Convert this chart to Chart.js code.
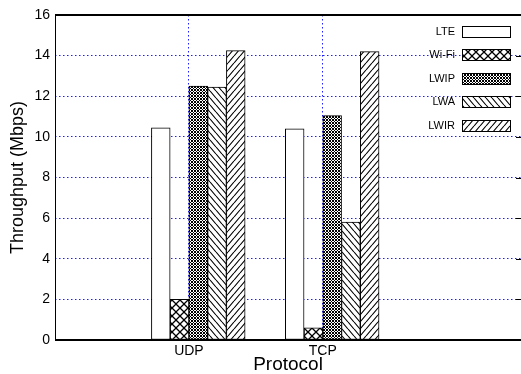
<!DOCTYPE html>
<html><head><meta charset="utf-8">
<script src="https://cdn.jsdelivr.net/npm/chart.js@4.4.0/dist/chart.umd.min.js"></script>
<style>html,body{margin:0;padding:0;background:#fff;overflow:hidden}canvas{display:block}</style>
</head><body>
<canvas id="c" width="521" height="374"></canvas>
<script>
// ---- data ----
const categories = ['UDP', 'TCP'];
const seriesNames = ['LTE', 'Wi-Fi', 'LWIP', 'LWA', 'LWIR'];
const lteValues  = [10.45, 10.4];
const wifiValues = [2.0, 0.6];
const lwipValues = [12.5, 11.05];
const lwaValues  = [12.45, 5.8];
const lwirValues = [14.25, 14.2];
const yTickValues = [0, 2, 4, 6, 8, 10, 12, 14, 16];
const xAxisTitle = 'Protocol';
const yAxisTitle = 'Throughput (Mbps)';

// ---- patterns ----
function tile(w, h, draw) {
  const c = document.createElement('canvas');
  c.width = w; c.height = h;
  const g = c.getContext('2d');
  g.fillStyle = '#fff'; g.fillRect(0, 0, w, h);
  draw(g, w, h);
  return document.getElementById('c').getContext('2d').createPattern(c, 'repeat');
}
function cross(lw) {
  return (g, w, h) => {
    g.strokeStyle = '#000'; g.lineWidth = lw;
    g.beginPath();
    g.moveTo(-1, -1); g.lineTo(w + 1, h + 1);
    g.moveTo(-1, h + 1); g.lineTo(w + 1, -1);
    g.stroke();
  };
}
const patterns = [
  '#ffffff',
  tile(8, 8, cross(1.3)),
  tile(3, 3, cross(1.0)),
  tile(6, 7, (g, w, h) => {
    g.strokeStyle = '#000'; g.lineWidth = 1.1;
    g.beginPath();
    for (let k = -1; k <= 1; k++) { g.moveTo(k * w, 0); g.lineTo(k * w + w, h); }
    g.stroke();
  }),
  tile(6, 7, (g, w, h) => {
    g.strokeStyle = '#000'; g.lineWidth = 1.1;
    g.beginPath();
    for (let k = -1; k <= 1; k++) { g.moveTo(k * w, h); g.lineTo(k * w + w, 0); }
    g.stroke();
  })
];

const seriesValues = [lteValues, wifiValues, lwipValues, lwaValues, lwirValues];
const barStep = 0.14;
const datasets = seriesNames.map((name, i) => ({
  label: name,
  data: seriesValues[i].map((v, g) => ({ x: g + (i - (seriesNames.length - 2) / 2) * barStep, y: v })),
  backgroundColor: patterns[i],
  borderColor: '#000',
  borderWidth: 1,
  borderSkipped: false,
  grouped: false,
  barPercentage: 1,
  categoryPercentage: 1
}));

const FONT = '"Liberation Sans", Arial, Helvetica, sans-serif';
const gridBlue = 'rgb(30,30,255)';

const framePlugin = {
  id: 'frame',
  afterDatasetsDraw(chart) {
    const { ctx, chartArea: a, scales } = chart;
    ctx.save();
    ctx.strokeStyle = '#000';
    ctx.lineWidth = 2;
    ctx.beginPath();
    ctx.moveTo(a.left, a.top); ctx.lineTo(a.right, a.top);
    ctx.moveTo(a.left, a.bottom); ctx.lineTo(a.right, a.bottom);
    ctx.stroke();
    ctx.lineWidth = 1;
    ctx.beginPath();
    ctx.moveTo(a.left + 0.5, a.top); ctx.lineTo(a.left + 0.5, a.bottom);
    yTickValues.forEach(v => {
      const y = Math.round(scales.y.getPixelForValue(v)) + 0.5;
      ctx.moveTo(a.right - 5, y); ctx.lineTo(a.right, y);
    });
    ctx.stroke();
    ctx.restore();
  }
};

const legendPlugin = {
  id: 'boxLegend',
  afterDraw(chart) {
    const { ctx } = chart;
    ctx.save();
    ctx.font = '11px ' + FONT;
    ctx.textAlign = 'right';
    ctx.textBaseline = 'middle';
    chart.data.datasets.forEach((ds, i) => {
      const cy = 31 + i * 23.5;
      const bx = 462, bw = 48, bh = 11;
      const by = Math.round(cy - bh / 2);
      ctx.fillStyle = ds.backgroundColor;
      ctx.fillRect(bx, by, bw, bh);
      ctx.strokeStyle = '#000'; ctx.lineWidth = 1;
      ctx.strokeRect(bx + 0.5, by + 0.5, bw, bh);
      ctx.fillStyle = '#000';
      ctx.fillText(ds.label, 455, cy + 0.5);
    });
    ctx.restore();
  }
};

new Chart(document.getElementById('c'), {
  type: 'bar',
  data: { datasets },
  options: {
    responsive: false,
    animation: false,
    devicePixelRatio: 1,
    layout: { padding: { top: 15, right: 0, bottom: 0, left: 0 } },
    plugins: { legend: { display: false }, tooltip: { enabled: false } },
    scales: {
      x: {
        type: 'linear',
        offset: false,
        min: -1, max: 2.48,
        afterBuildTicks: (s) => { s.ticks = categories.map((_, i) => ({ value: i })); },
        afterFit: (s) => { s.height = 34; },
        ticks: {
          callback: (v) => categories[v] ?? '',
          font: { family: FONT, size: 14 }, color: '#000', padding: 3,
          maxRotation: 0, autoSkip: false
        },
        grid: { color: gridBlue, lineWidth: 1, drawTicks: false, offset: false },
        border: { display: false, dash: [1.5, 2.5] },
        title: {
          display: true, text: xAxisTitle, color: '#000',
          font: { family: FONT, size: 19, lineHeight: 1 }, padding: { top: 0, bottom: 0 }
        }
      },
      y: {
        min: 0, max: 16,
        afterBuildTicks: (s) => { s.ticks = yTickValues.map(v => ({ value: v })); },
        afterFit: (s) => { s.width = 55; },
        ticks: { font: { family: FONT, size: 14 }, color: '#000', padding: 5 },
        grid: {
          color: (c) => (c.tick && (c.tick.value === 0 || c.tick.value === 16)) ? 'rgba(0,0,0,0)' : gridBlue,
          lineWidth: 1, drawTicks: false
        },
        border: { display: false, dash: [1.5, 2.5] },
        title: {
          display: true, text: yAxisTitle, color: '#000',
          font: { family: FONT, size: 18, lineHeight: 1 }, padding: { top: 9, bottom: 0 }
        }
      }
    }
  },
  plugins: [framePlugin, legendPlugin]
});
</script>
</body></html>
